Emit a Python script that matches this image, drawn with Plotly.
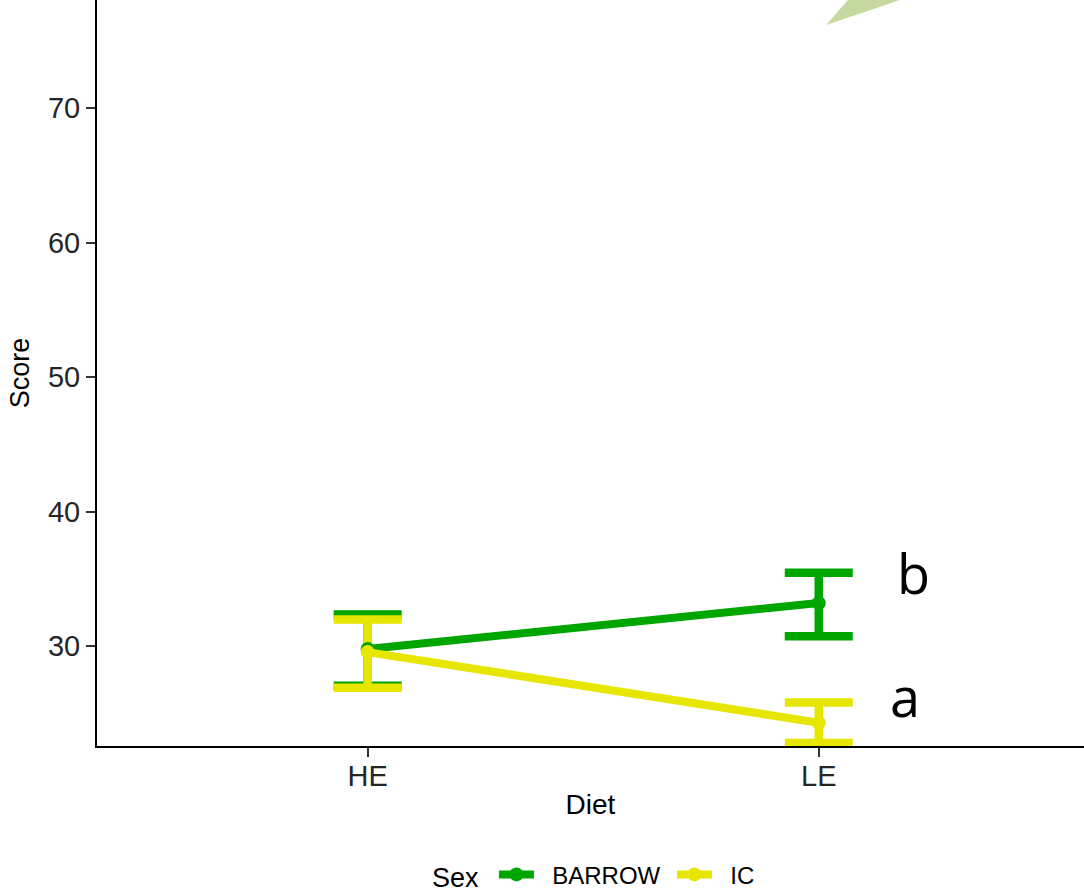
import plotly.graph_objects as go

diet = ["HE", "LE"]
sexes = ["BARROW", "IC"]
colors = ["#00A600", "#E6E600"]
means = {"BARROW": [29.78, 33.2], "IC": [29.55, 24.3]}
upper = {"BARROW": [32.35, 35.45], "IC": [31.97, 25.8]}
lower = {"BARROW": [27.05, 30.72], "IC": [26.9, 22.8]}
letters = {"BARROW": "b", "IC": "a"}

fig = go.Figure()

# error bars first (as in ggplot layering)
for s, c in zip(sexes, colors):
    m = means[s]
    fig.add_trace(go.Scatter(
        x=diet, y=m, mode="markers",
        marker=dict(size=1, opacity=0, color=c),
        error_y=dict(type="data", symmetric=False,
                     array=[u - v for u, v in zip(upper[s], m)],
                     arrayminus=[v - l for l, v in zip(lower[s], m)],
                     color=c, thickness=8.5, width=34),
        showlegend=False, hoverinfo="skip"))

NB = "\u00a0"
for s, c in zip(sexes, colors):
    fig.add_trace(go.Scatter(
        x=diet, y=means[s], mode="lines+markers", name=NB * 2 + s + NB,
        line=dict(color=c, width=8),
        marker=dict(color=c, size=14)))

shifts = {"BARROW": (95, 0), "IC": (86, 7)}
for s in sexes:
    xs, ys = shifts[s]
    fig.add_annotation(x="LE", y=upper[s][1], text=letters[s], showarrow=False,
                       xshift=xs, yshift=ys,
                       font=dict(family="Open Sans", size=54, color="#000000"))

# decorative slide fragment (green arrow tip)
fig.add_shape(type="path", xref="paper", yref="paper",
              path="M 0.7386 0.9665 L 0.7609 1.0 L 0.8136 1.0 Z",
              fillcolor="#C5D89F", line=dict(width=0), layer="above")

fig.update_layout(
    width=1084, height=895,
    margin=dict(l=97, r=0, t=0, b=149),
    plot_bgcolor="white", paper_bgcolor="white",
    font=dict(family="Liberation Sans", color="#000000"),
    xaxis=dict(type="category", range=[-0.6, 1.588],
               showline=True, linecolor="#000000", linewidth=2,
               ticks="outside", ticklen=9, tickwidth=1.5, tickcolor="#333333",
               tickfont=dict(size=29, color="#262626"), ticklabelstandoff=-6,
               title=dict(text="Diet", font=dict(size=28, color="#000000"), standoff=4),
               showgrid=False, zeroline=False),
    yaxis=dict(range=[22.57, 78.03], tickvals=[30, 40, 50, 60, 70],
               showline=True, linecolor="#000000", linewidth=2,
               ticks="outside", ticklen=9, tickwidth=1.5, tickcolor="#333333",
               tickfont=dict(size=29, color="#262626"),
               title=dict(text="Score", font=dict(size=27, color="#000000"), standoff=10),
               showgrid=False, zeroline=False),
    legend=dict(orientation="h", x=0.508, xanchor="center",
                yref="container", y=0.022, yanchor="middle",
                title=dict(text="Sex ", font=dict(size=27, color="#000000")),
                font=dict(size=24, color="#000000"), itemwidth=35),
)

fig.write_html("out.html")
